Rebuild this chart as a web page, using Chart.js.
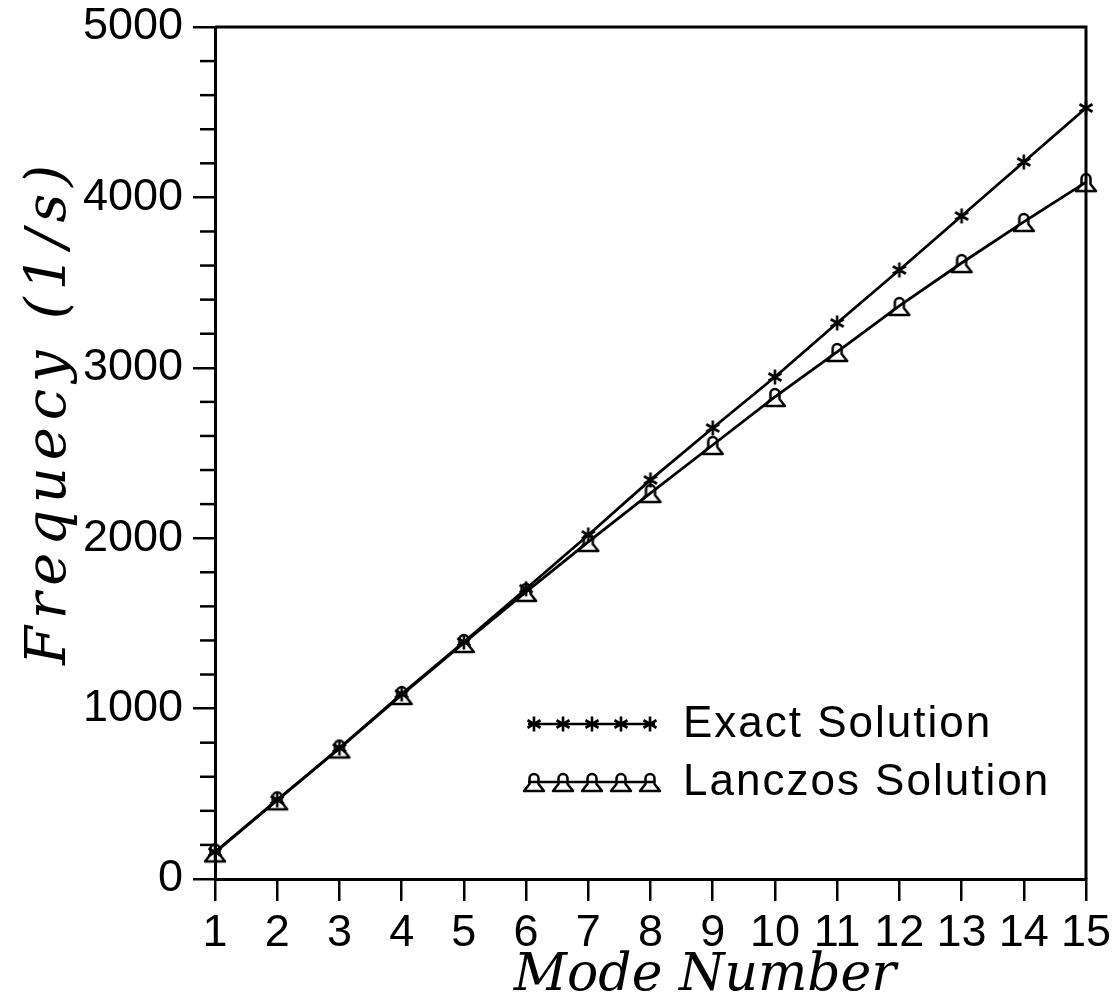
<!DOCTYPE html>
<html>
<head>
<meta charset="utf-8">
<script src="https://cdn.jsdelivr.net/npm/chart.js@4.4.1/dist/chart.umd.min.js"></script>
<style>
  html, body { margin: 0; padding: 0; background: #fff; }
  canvas { display: block; }
</style>
</head>
<body>
<canvas id="chart" width="1113" height="1005"></canvas>
<script>
// Natural frequencies of the first 15 modes
const modeNumbers = ['1', '2', '3', '4', '5', '6', '7', '8', '9', '10', '11', '12', '13', '14', '15'];
const exactFreq   = [158, 464, 769, 1086, 1391, 1703, 2019, 2342, 2647, 2946, 3263, 3574, 3891, 4208, 4525];
const lanczosFreq = [156, 462, 766, 1080, 1385, 1685, 1978, 2265, 2547, 2829, 3093, 3363, 3615, 3856, 4090];
const freqTicks = [0, 1000, 2000, 3000, 4000, 5000];
const freqMinorStep = 200;
const seriesNames = ['Exact Solution', 'Lanczos Solution'];
const xTitle = 'Mode Number';
const yTitle = 'Frequecy (1/s)';

const SANS = '"Liberation Sans", Arial, sans-serif';
const SERIF = '"DejaVu Serif", "Liberation Serif", serif';

// bell-shaped marker for the Lanczos series
function makeBell() {
  const c = document.createElement('canvas');
  c.width = 26; c.height = 26;
  const g = c.getContext('2d');
  g.strokeStyle = '#000';
  g.lineWidth = 2.5;
  g.lineJoin = 'round';
  g.beginPath();
  g.moveTo(3, 22);
  g.lineTo(23, 22);
  g.lineTo(17.5, 15);
  g.lineTo(17.5, 9.5);
  g.arc(13, 9.5, 4.5, 0, Math.PI, true);
  g.lineTo(8.5, 15);
  g.closePath();
  g.stroke();
  return c;
}

// six-armed asterisk marker for the exact series
function makeAsterisk() {
  const c = document.createElement('canvas');
  c.width = 20; c.height = 20;
  const g = c.getContext('2d');
  g.strokeStyle = '#000';
  g.lineWidth = 2.6;
  g.beginPath();
  [90, 30, 150].forEach(deg => {
    const r = deg * Math.PI / 180;
    const dx = Math.cos(r) * 7.5, dy = Math.sin(r) * 7.5;
    g.moveTo(10 - dx, 10 - dy);
    g.lineTo(10 + dx, 10 + dy);
  });
  g.stroke();
  return c;
}

const bell = makeBell();
const asterisk = makeAsterisk();

// draws text stretched to a given length by spacing the letters
function drawSpaced(ctx, text, cx, cy, targetW) {
  ctx.letterSpacing = '0px';
  const w = ctx.measureText(text).width;
  const sp = Math.max(0, (targetW - w) / (text.length - 1));
  ctx.letterSpacing = sp + 'px';
  const w2 = ctx.measureText(text).width;
  ctx.textAlign = 'left';
  ctx.fillText(text, cx - (w2 - sp) / 2, cy);
  ctx.letterSpacing = '0px';
}

// top/right frame and minor ticks on the frequency axis
const framePlugin = {
  id: 'frame',
  afterDraw(chart) {
    const { ctx, chartArea: a, scales: { y } } = chart;
    ctx.save();
    ctx.strokeStyle = '#000';
    ctx.lineWidth = 3;
    ctx.beginPath();
    ctx.moveTo(a.left, a.top);
    ctx.lineTo(a.right, a.top);
    ctx.lineTo(a.right, a.bottom);
    ctx.stroke();
    ctx.lineWidth = 2.5;
    for (let v = y.min; v <= y.max; v += freqMinorStep) {
      if (v % 1000 === 0) continue;
      const py = y.getPixelForValue(v);
      ctx.beginPath();
      ctx.moveTo(a.left - 15, py);
      ctx.lineTo(a.left, py);
      ctx.stroke();
    }
    ctx.restore();
  }
};

// legend with a sample line carrying five markers per series
const legendPlugin = {
  id: 'sampleLegend',
  afterDraw(chart) {
    const { ctx } = chart;
    const rows = [
      { y: 724, img: asterisk, label: seriesNames[0] },
      { y: 782, img: bell, label: seriesNames[1] }
    ];
    const x0 = 528, x1 = 655;
    const marks = [534, 563, 592, 621, 650];
    ctx.save();
    rows.forEach(r => {
      ctx.strokeStyle = '#000';
      ctx.lineWidth = 2.5;
      ctx.beginPath();
      ctx.moveTo(x0, r.y);
      ctx.lineTo(x1, r.y);
      ctx.stroke();
      marks.forEach(mx => ctx.drawImage(r.img, mx - r.img.width / 2, r.y - r.img.height / 2));
      ctx.fillStyle = '#000';
      ctx.font = '44px ' + SANS;
      ctx.textBaseline = 'middle';
      ctx.textAlign = 'left';
      ctx.letterSpacing = '2px';
      ctx.fillText(r.label, 683, r.y + 1);
    });
    ctx.restore();
  }
};

// italic axis titles
const titlePlugin = {
  id: 'axisTitles',
  afterDraw(chart) {
    const { ctx } = chart;
    ctx.save();
    ctx.fillStyle = '#000';
    ctx.textBaseline = 'middle';
    ctx.font = 'italic 52px ' + SERIF;
    drawSpaced(ctx, xTitle, 705, 976, 380);
    ctx.translate(50, 415);
    ctx.rotate(-Math.PI / 2);
    ctx.font = 'italic 56px ' + SERIF;
    drawSpaced(ctx, yTitle, 0, 0, 500);
    ctx.restore();
  }
};

new Chart(document.getElementById('chart'), {
  type: 'line',
  data: {
    labels: modeNumbers,
    datasets: [
      {
        label: seriesNames[0],
        data: exactFreq,
        borderColor: '#000',
        borderWidth: 2.8,
        pointStyle: asterisk,
        pointRadius: 8,
        tension: 0,
        clip: false
      },
      {
        label: seriesNames[1],
        data: lanczosFreq,
        borderColor: '#000',
        borderWidth: 2.8,
        pointStyle: bell,
        pointRadius: 10,
        tension: 0,
        clip: false
      }
    ]
  },
  options: {
    responsive: false,
    animation: false,
    devicePixelRatio: 1,
    layout: { padding: { top: 27, right: 27, left: 0, bottom: 0 } },
    plugins: { legend: { display: false }, tooltip: { enabled: false } },
    scales: {
      x: {
        type: 'category',
        offset: false,
        grid: { drawOnChartArea: false, color: '#000', lineWidth: 2.5, tickLength: 22 },
        border: { color: '#000', width: 3 },
        ticks: { color: '#000', font: { family: SANS, size: 45 }, autoSkip: false, maxRotation: 0, padding: 6 },
        afterFit(s) { s.height = 126; s.paddingLeft = 0; s.paddingRight = 0; }
      },
      y: {
        min: 0,
        max: 5000,
        afterBuildTicks(s) { s.ticks = freqTicks.map(v => ({ value: v })); },
        grid: { drawOnChartArea: false, color: '#000', lineWidth: 2.5, tickLength: 22 },
        border: { color: '#000', width: 3 },
        ticks: { color: '#000', font: { family: SANS, size: 45 }, padding: 10, callback: v => String(v) },
        afterFit(s) { s.width = 215; s.paddingTop = 0; s.paddingBottom = 0; }
      }
    }
  },
  plugins: [framePlugin, legendPlugin, titlePlugin]
});
</script>
</body>
</html>
